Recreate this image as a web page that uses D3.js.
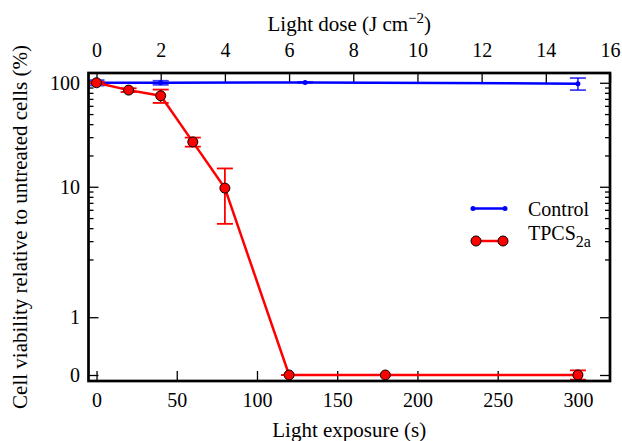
<!DOCTYPE html>
<html>
<head>
<meta charset="utf-8">
<script src="https://cdn.jsdelivr.net/npm/d3@7"></script>
<style>
  @font-face { font-family: 'ChartSerif'; src: local('Liberation Serif'), local('LiberationSerif'), local('Tinos'); }
</style>
</head>
<body style="margin:0; background:#fff">
<script>
//
// Data
//
const controlTime = [0, 40, 130, 300]
const controlViability = [100, 100, 100.8, 98]
const controlError = [6, 4.5, 1, 13]

const tpcsTime = [0, 20, 40, 60, 80, 120, 180, 300]
const tpcsViability = [100, 85, 75, 27, 9.7, 0, 0, 0]
const tpcsError = [2, 3.5, 11, 2.7, 5.3, 0, 0, 0.08]

const timeTicks = [0, 50, 100, 150, 200, 250, 300]
const doseTicks = [0, 2, 4, 6, 8, 10, 12, 14, 16]
const yMajorTicks = [0, 1, 10, 100]
const yMinorTicks = [2, 3, 4, 5, 6, 7, 8, 9, 20, 30, 40, 50, 60, 70, 80, 90]

const width = 622
const height = 441
const plot = { left: 88.5, right: 610, top: 73, bottom: 381 }
const fontName = 'Liberation Serif'

//
// symlog-like transform: linear below 2, log10 above (linscale 1)
//
const linThresh = 2
const linScale = 1 / (1 - 1 / 10)
function symT (v) {
  const a = Math.abs(v)
  const s = v < 0 ? -1 : 1
  if (a <= linThresh) return s * (a / linThresh) * linScale
  return s * (linScale + Math.log10(a / linThresh))
}

const x = d3.scaleLinear().domain([-5, 320]).range([plot.left, plot.right])
const xDose = d3.scaleLinear().domain([-0.25, 16]).range([plot.left, plot.right])
const yLin = d3.scaleLinear().domain([-0.0577, 2.904]).range([plot.bottom, plot.top])
const y = v => yLin(symT(v))

const svg = d3.select('body').append('svg')
  .attr('width', width)
  .attr('height', height)
  .attr('font-family', fontName)

function setFont (sel, size) {
  sel.attr('font-family', fontName)
    .attr('font-size', size)
    .attr('style', `font-family: ${fontName}, ChartSerif, serif; font-size: ${size}px`)
}

// axes (ticks point inward)
function styleAxis (g) {
  g.attr('font-family', fontName).attr('font-size', 20)
  g.select('.domain').remove()
  g.selectAll('.tick line').attr('stroke', '#000').attr('stroke-width', 1.3)
  g.selectAll('.tick text').call(setFont, 20).attr('fill', '#000')
}

svg.append('g')
  .attr('transform', `translate(0,${plot.bottom})`)
  .call(d3.axisBottom(x).tickValues(timeTicks).tickSize(-10).tickPadding(11.3))
  .call(styleAxis)

svg.append('g')
  .attr('transform', `translate(0,${plot.top})`)
  .call(d3.axisTop(xDose).tickValues(doseTicks).tickSize(-10).tickPadding(15.7))
  .call(styleAxis)

svg.append('g')
  .attr('transform', `translate(${plot.left},0)`)
  .call(d3.axisLeft(yLin).tickValues(yMajorTicks.map(symT)).tickSize(-10).tickPadding(8.5)
    .tickFormat((d, i) => yMajorTicks[i]))
  .call(styleAxis)

svg.append('g')
  .attr('transform', `translate(${plot.left},0)`)
  .call(d3.axisLeft(yLin).tickValues(yMinorTicks.map(symT)).tickSize(-5).tickFormat(''))
  .call(styleAxis)

svg.append('g')
  .attr('transform', `translate(${plot.right},0)`)
  .call(d3.axisRight(yLin).tickValues(yMajorTicks.map(symT)).tickSize(-10).tickFormat(''))
  .call(styleAxis)

svg.append('g')
  .attr('transform', `translate(${plot.right},0)`)
  .call(d3.axisRight(yLin).tickValues(yMinorTicks.map(symT)).tickSize(-5).tickFormat(''))
  .call(styleAxis)

// series
const controlData = controlTime.map((t, i) => ({ t: t, v: controlViability[i], e: controlError[i] }))
const tpcsData = tpcsTime.map((t, i) => ({ t: t, v: tpcsViability[i], e: tpcsError[i] }))

const line = d3.line().x(d => x(d.t)).y(d => y(d.v))

function drawErrorBars (data, colour, opacity) {
  const g = svg.append('g')
    .attr('stroke', colour)
    .attr('stroke-width', 1.8)
    .attr('stroke-opacity', opacity)
    .attr('fill', 'none')
  data.forEach(d => {
    const y0 = y(d.v - d.e)
    const y1 = y(d.v + d.e)
    g.append('line').attr('x1', x(d.t)).attr('x2', x(d.t)).attr('y1', y0).attr('y2', y1)
    g.append('line').attr('x1', x(d.t) - 8).attr('x2', x(d.t) + 8).attr('y1', y0).attr('y2', y0)
    g.append('line').attr('x1', x(d.t) - 8).attr('x2', x(d.t) + 8).attr('y1', y1).attr('y2', y1)
  })
}

// Control
svg.append('path')
  .datum(controlData)
  .attr('d', line)
  .attr('fill', 'none')
  .attr('stroke', '#0000ff')
  .attr('stroke-width', 2.5)
drawErrorBars(controlData, '#0000ff', 0.75)
svg.append('g').selectAll('circle')
  .data(controlData)
  .enter()
  .append('circle')
    .attr('cx', d => x(d.t))
    .attr('cy', d => y(d.v))
    .attr('r', 2.5)
    .attr('fill', '#0000ff')

// TPCS2a
svg.append('path')
  .datum(tpcsData)
  .attr('d', line)
  .attr('fill', 'none')
  .attr('stroke', '#ff0000')
  .attr('stroke-width', 2.5)
drawErrorBars(tpcsData, '#ff0000', 1)
svg.append('g').selectAll('circle')
  .data(tpcsData)
  .enter()
  .append('circle')
    .attr('cx', d => x(d.t))
    .attr('cy', d => y(d.v))
    .attr('r', 5)
    .attr('fill', '#ff0000')
    .attr('stroke', '#000')
    .attr('stroke-width', 1)

// frame
svg.append('rect')
  .attr('x', plot.left)
  .attr('y', plot.top)
  .attr('width', plot.right - plot.left)
  .attr('height', plot.bottom - plot.top)
  .attr('fill', 'none')
  .attr('stroke', '#000')
  .attr('stroke-width', 2.7)

// axis titles
const cx = (plot.left + plot.right) / 2
svg.append('text')
  .attr('x', cx)
  .attr('y', 437)
  .attr('text-anchor', 'middle')
  .call(setFont, 21)
  .text('Light exposure (s)')

const topTitle = svg.append('text')
  .attr('x', cx)
  .attr('y', 30.5)
  .attr('text-anchor', 'middle')
  .call(setFont, 21)
topTitle.append('tspan').text('Light dose (J cm')
topTitle.append('tspan').attr('dy', -8).attr('font-size', 15).text('\u22122')
topTitle.append('tspan').attr('dy', 8).text(')')

svg.append('text')
  .attr('transform', `translate(27,${(plot.top + plot.bottom) / 2}) rotate(-90)`)
  .attr('text-anchor', 'middle')
  .call(setFont, 21)
  .text('Cell viability relative to untreated cells (%)')

// legend
const legend = svg.append('g')
legend.append('line')
  .attr('x1', 473).attr('x2', 505).attr('y1', 208.5).attr('y2', 208.5)
  .attr('stroke', '#0000ff').attr('stroke-width', 2.5)
legend.selectAll('.lc')
  .data([473, 505])
  .enter()
  .append('circle')
    .attr('cx', d => d).attr('cy', 208.5).attr('r', 2.5).attr('fill', '#0000ff')
legend.append('text')
  .attr('x', 528).attr('y', 215.7)
  .call(setFont, 20)
  .text('Control')

legend.append('line')
  .attr('x1', 476).attr('x2', 503).attr('y1', 241).attr('y2', 241)
  .attr('stroke', '#ff0000').attr('stroke-width', 2.5)
legend.selectAll('.lt')
  .data([476, 503])
  .enter()
  .append('circle')
    .attr('cx', d => d).attr('cy', 241).attr('r', 5)
    .attr('fill', '#ff0000').attr('stroke', '#000').attr('stroke-width', 1)
const tpcsLabel = legend.append('text')
  .attr('x', 528).attr('y', 240)
  .call(setFont, 20)
tpcsLabel.append('tspan').text('TPCS')
tpcsLabel.append('tspan').attr('dy', 7).attr('style', 'font-size: 16px').text('2a')
</script>
</body>
</html>
